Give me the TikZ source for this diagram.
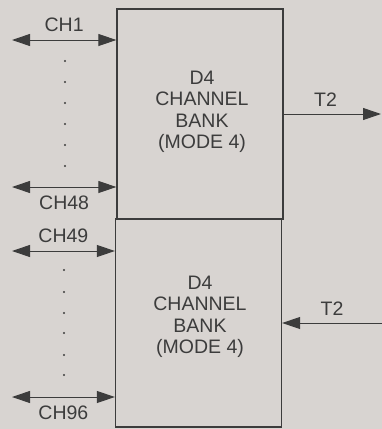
\documentclass[tikz,border=0pt]{standalone}
\usepackage{fontspec}
\setmainfont{Liberation Sans}
\usepackage{xcolor}
\usetikzlibrary{arrows.meta,positioning}
\definecolor{paper}{RGB}{216,212,209}
\definecolor{ink}{RGB}{60,60,60}

\begin{document}
\begin{tikzpicture}[
    x=1pt, y=-1pt,
    font=\fontsize{19.5}{21.5}\selectfont, text=ink,
    bank/.style={draw=ink, line width=1.3pt, minimum width=166pt, inner sep=0pt},
    banktext/.style={align=center, inner sep=0pt},
    chan/.style={{Triangle[length=18pt,width=12pt]}-{Triangle[length=18pt,width=12pt]}, draw=ink, line width=1pt},
    trunk/.style={-{Triangle[length=18pt,width=12pt]}, draw=ink, line width=1pt},
    tag/.style={inner sep=0pt},
    dot/.style={circle, fill=ink, inner sep=0pt, minimum size=2.4pt}
]
% page
\fill[paper] (0,0) rectangle (382,429);
\useasboundingbox (0,0) rectangle (382,429);

% the two channel banks
\node[bank, minimum height=210pt] (bankA) at (200,114) {};
\node[bank, minimum height=208pt] (bankB) at (198.5,323) {};
\node[banktext] (bankAtext) at (202,112) {D4\\CHANNEL\\BANK\\(MODE 4)};
\node[banktext] (bankBtext) at (200,317) {D4\\CHANNEL\\BANK\\(MODE 4)};

% channels 1-48
\coordinate (ch1) at (12,40);
\coordinate (ch48) at (12,187);
\draw[chan] (ch1) -- node[tag, above=8pt] (lch1) {CH1} (ch1 -| bankA.west);
\draw[chan] (ch48) -- node[tag, below=8pt] (lch48) {CH48} (ch48 -| bankA.west);
\foreach \y in {61,82,103,124,145,166}
    \node[dot] (da\y) at (65,\y) {};

% channels 49-96
\coordinate (ch49) at (12,251);
\coordinate (ch96) at (12,397);
\draw[chan] (ch49) -- node[tag, above=8pt] (lch49) {CH49} (ch49 -| bankB.west);
\draw[chan] (ch96) -- node[tag, below=8pt] (lch96) {CH96} (ch96 -| bankB.west);
\foreach \y in {270,292,313,333,355,375}
    \node[dot] (db\y) at (64,\y) {};

% T2 lines
\coordinate (t2a) at (381,114);
\coordinate (t2b) at (382,323);
\draw[trunk] (bankA.east) -- node[tag, above=7pt, pos=0.43] (lt2a) {T2} (t2a);
\draw[trunk] (t2b) -- node[tag, above=7pt] (lt2b) {T2} (t2b -| bankB.east);
\end{tikzpicture}
\end{document}
